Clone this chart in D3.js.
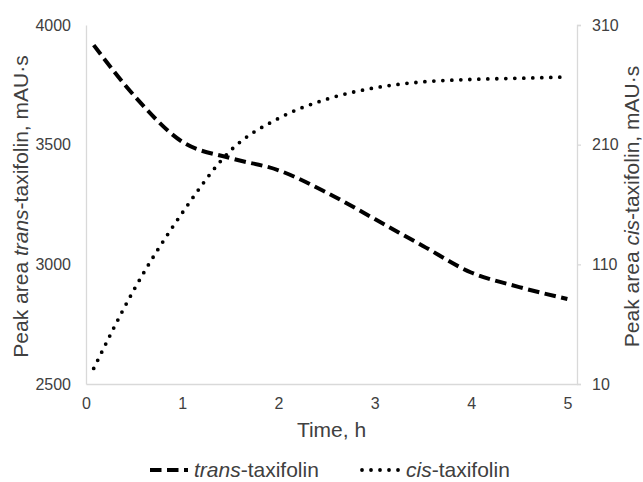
<!DOCTYPE html>
<html>
<head>
<meta charset="utf-8">
<script src="https://cdn.jsdelivr.net/npm/d3@7"></script>
<style>
  html, body { margin: 0; padding: 0; background: #fff; }
  svg { display: block; font-family: "Liberation Sans", Arial, sans-serif; }
</style>
</head>
<body>
<svg id="chart" width="643" height="482"></svg>
<script>
// ---- data ----
const times = [0.08, 0.5, 1, 1.5, 2, 2.5, 3, 3.5, 4, 4.5, 5];
const transValues = [3916, 3705, 3512, 3444, 3393, 3300, 3189, 3077, 2966, 2905, 2855];
const cisValues = [23, 89, 153, 205, 232, 248, 257.5, 262.5, 264.5, 265.5, 266.6];
const xTicks = [0, 1, 2, 3, 4, 5];
const leftTicks = [2500, 3000, 3500, 4000];
const rightTicks = [10, 110, 210, 310];
const seriesNames = ["trans", "cis"];

// ---- layout ----
const W = 643, H = 482;
const m = { left: 86, right: 643 - 577, top: 25, bottom: 482 - 384 };
const svg = d3.select("#chart");

const x = d3.scaleLinear().domain([0, 5.1]).range([m.left, W - m.right]);
const yL = d3.scaleLinear().domain([2500, 4000]).range([H - m.bottom, m.top]);
const yR = d3.scaleLinear().domain([10, 310]).range([H - m.bottom, m.top]);

const axisColor = "#d9d9d9";
const textColor = "#404040";

// bottom axis
const gx = svg.append("g")
  .attr("transform", `translate(0,${H - m.bottom})`)
  .call(d3.axisBottom(x).tickValues(xTicks).tickFormat(d3.format("d")).tickSize(0).tickPadding(14));
// left axis
const gl = svg.append("g")
  .attr("transform", `translate(${m.left},0)`)
  .call(d3.axisLeft(yL).tickValues(leftTicks).tickFormat(d3.format("d")).tickSize(0).tickPadding(15));
// right axis
const gr = svg.append("g")
  .attr("transform", `translate(${W - m.right},0)`)
  .call(d3.axisRight(yR).tickValues(rightTicks).tickFormat(d3.format("d")).tickSize(4).tickPadding(11));

[gx, gl, gr].forEach(g => {
  g.select(".domain").attr("stroke", axisColor).attr("stroke-width", 1.3);
  g.selectAll(".tick line").attr("stroke", axisColor).attr("stroke-width", 1.3);
  g.selectAll(".tick text").attr("fill", textColor)
    .style("font-size", "16px").style("font-family", '"Liberation Sans", Arial, sans-serif');
});

// lines
const transData = times.map((t, i) => [t, transValues[i]]);
const cisData = times.map((t, i) => [t, cisValues[i]]);

svg.append("path")
  .datum(transData)
  .attr("fill", "none")
  .attr("stroke", "#000")
  .attr("stroke-width", 4)
  .attr("stroke-dasharray", "11.5,5.5")
  .attr("d", d3.line().x(d => x(d[0])).y(d => yL(d[1])).curve(d3.curveMonotoneX));

svg.append("path")
  .datum(cisData)
  .attr("fill", "none")
  .attr("stroke", "#000")
  .attr("stroke-width", 3.8)
  .attr("stroke-linecap", "round")
  .attr("stroke-dasharray", "0,9")
  .attr("d", d3.line().x(d => x(d[0])).y(d => yR(d[1])).curve(d3.curveMonotoneX));

// axis titles
const titleSize = "21px";
svg.append("text")
  .attr("x", (m.left + W - m.right) / 2)
  .attr("y", 437)
  .attr("text-anchor", "middle")
  .attr("fill", textColor)
  .style("font-size", titleSize)
  .text("Time, h");

const yMid = (m.top + H - m.bottom) / 2 + 2;
const lt = svg.append("text")
  .attr("transform", `translate(28,${yMid}) rotate(-90)`)
  .attr("text-anchor", "middle")
  .attr("fill", textColor)
  .style("font-size", titleSize);
lt.append("tspan").text("Peak area ");
lt.append("tspan").style("font-style", "italic").text(seriesNames[0]);
lt.append("tspan").text("-taxifolin, mAU·s");

const rt = svg.append("text")
  .attr("transform", `translate(639,${yMid}) rotate(-90)`)
  .attr("text-anchor", "middle")
  .attr("fill", textColor)
  .style("font-size", titleSize);
rt.append("tspan").text("Peak area ");
rt.append("tspan").style("font-style", "italic").text(seriesNames[1]);
rt.append("tspan").text("-taxifolin, mAU·s");

// legend
const legY = 470;
const leg = svg.append("g");
leg.append("line")
  .attr("x1", 150).attr("x2", 188).attr("y1", legY).attr("y2", legY)
  .attr("stroke", "#000").attr("stroke-width", 4).attr("stroke-dasharray", "11.5,5.5");
const t1 = leg.append("text").attr("x", 194).attr("y", legY + 7)
  .attr("fill", textColor).style("font-size", titleSize);
t1.append("tspan").style("font-style", "italic").text(seriesNames[0]);
t1.append("tspan").text("-taxifolin");

leg.append("line")
  .attr("x1", 362).attr("x2", 400).attr("y1", legY).attr("y2", legY)
  .attr("stroke", "#000").attr("stroke-width", 3.8).attr("stroke-linecap", "round")
  .attr("stroke-dasharray", "0,9");
const t2 = leg.append("text").attr("x", 406).attr("y", legY + 7)
  .attr("fill", textColor).style("font-size", titleSize);
t2.append("tspan").style("font-style", "italic").text(seriesNames[1]);
t2.append("tspan").text("-taxifolin");
</script>
</body>
</html>
